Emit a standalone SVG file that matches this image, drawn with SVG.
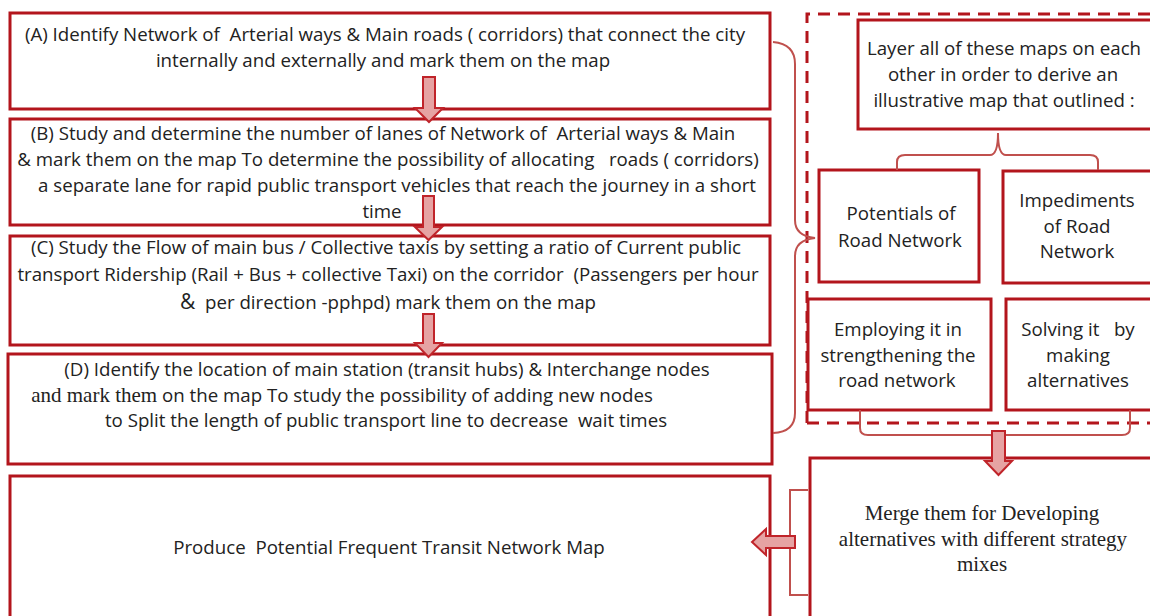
<svg xmlns="http://www.w3.org/2000/svg" width="1150" height="616" viewBox="0 0 1150 616">
<defs>
<style>
.box{fill:#fff;stroke:#b3151c;stroke-width:3}
.dash{fill:none;stroke:#b3151c;stroke-width:3;stroke-dasharray:12 8}
.brace{fill:none;stroke:#c0504d;stroke-width:2}
.arr{fill:#e6a3a3;stroke:#c0242a;stroke-width:2}
text{white-space:pre}
.t{font-family:"Open Sans","Liberation Sans",sans-serif;font-size:18.7px;fill:#222;text-anchor:middle}
.s{font-family:"Liberation Serif","Times New Roman",serif;font-size:21px;fill:#222}
</style>
</defs>
<rect width="1150" height="616" fill="#fff"/>
<!-- flow boxes -->
<g id="nodeA"><rect class="box" x="10" y="13" width="760" height="96"/>
<text class="t" x="385" y="41">(A) Identify Network of  Arterial ways &amp; Main roads ( corridors) that connect the city</text>
<text class="t" x="383" y="67">internally and externally and mark them on the map</text></g>
<g id="nodeB"><rect class="box" x="10" y="119" width="760" height="106"/>
<text class="t" x="383" y="140">(B) Study and determine the number of lanes of Network of  Arterial ways &amp; Main</text>
<text class="t" x="388" y="166">&amp; mark them on the map To determine the possibility of allocating   roads ( corridors)</text>
<text class="t" x="397" y="192">a separate lane for rapid public transport vehicles that reach the journey in a short</text>
<text class="t" x="382" y="218">time</text></g>
<g id="nodeC"><rect class="box" x="10" y="236" width="760" height="109"/>
<text class="t" x="386" y="254">(C) Study the Flow of main bus / Collective taxis by setting a ratio of Current public</text>
<text class="t" x="388" y="281">transport Ridership (Rail + Bus + collective Taxi) on the corridor  (Passengers per hour</text>
<text class="t" x="388" y="309"><tspan font-size="21">&amp;</tspan>  per direction -pphpd) mark them on the map</text></g>
<g id="nodeD"><rect class="box" x="8" y="354" width="764" height="110"/>
<text class="t" x="387" y="376">(D) Identify the location of main station (transit hubs) &amp; Interchange nodes</text>
<text class="t" x="342" y="402"><tspan class="s">and mark them</tspan> on the map To study the possibility of adding new nodes</text>
<text class="t" x="386" y="427">to Split the length of public transport line to decrease  wait times</text></g>
<g id="nodeE"><rect class="box" x="10" y="476" width="760" height="145"/>
<text class="t" x="389" y="554">Produce  Potential Frequent Transit Network Map</text></g>
<!-- analysis panel -->
<g id="panel"><path class="dash" d="M807 423 V14 H1152 M807 423 H1152"/></g>
<g id="nodeLayer"><rect class="box" x="858" y="20" width="295" height="109"/>
<text class="t" x="1004" y="55">Layer all of these maps on each</text>
<text class="t" x="1003" y="81">other in order to derive an</text>
<text class="t" x="1004" y="107">illustrative map that outlined :</text></g>
<g id="nodePotentials"><rect class="box" x="819" y="170" width="160" height="112"/>
<text class="t" x="901" y="220">Potentials of</text>
<text class="t" x="900" y="247">Road Network</text></g>
<g id="nodeImpediments"><rect class="box" x="1003" y="171" width="150" height="112"/>
<text class="t" x="1077" y="207">Impediments</text>
<text class="t" x="1077" y="233">of Road</text>
<text class="t" x="1077" y="258">Network</text></g>
<g id="nodeEmploying"><rect class="box" x="808" y="299" width="183" height="111"/>
<text class="t" x="898" y="336">Employing it in</text>
<text class="t" x="898" y="362">strengthening the</text>
<text class="t" x="897" y="387">road network</text></g>
<g id="nodeSolving"><rect class="box" x="1006" y="299" width="147" height="111"/>
<text class="t" x="1078" y="336">Solving it   by</text>
<text class="t" x="1078" y="362">making</text>
<text class="t" x="1078" y="387">alternatives</text></g>
<g id="nodeMerge"><rect class="box" x="810" y="458" width="343" height="163"/>
<text class="s" text-anchor="middle" x="982" y="520">Merge them for Developing</text>
<text class="s" text-anchor="middle" x="983" y="546">alternatives with different strategy</text>
<text class="s" text-anchor="middle" x="982" y="571">mixes</text></g>
<!-- connectors -->
<g id="connectors">
<path class="brace" d="M773 42 Q795 44 795 64 V220 Q795 236 815 238 Q795 240 795 256 V413 Q795 432 773 433"/>
<path class="brace" d="M897 170 V162 Q897 155 905 155 H990 Q998 155 998 133 Q998 155 1006 155 H1090 Q1098 155 1098 162 V170"/>
<path class="brace" d="M860 410 V428 Q860 435 868 435 H990 Q998 435 998 446 Q998 435 1006 435 H1122 Q1130 435 1130 428 V410"/>
<path class="brace" d="M808 490 H790 V595 H808"/>
<path class="arr" d="M423 77 H435 V108 H443 L429 122 L415 108 H423 Z"/>
<path class="arr" d="M423 196 H434 V227 H442 L428.5 240 L415 227 H423 Z"/>
<path class="arr" d="M423 314 H434 V343 H442 L428.5 357 L415 343 H423 Z"/>
<path class="arr" d="M992 431 H1005 V461 H1012 L998.5 475 L985 461 H992 Z"/>
<path class="arr" d="M795 536 V548 H766 V555 L752 542 L766 529 V536 Z"/>
</g>
</svg>
